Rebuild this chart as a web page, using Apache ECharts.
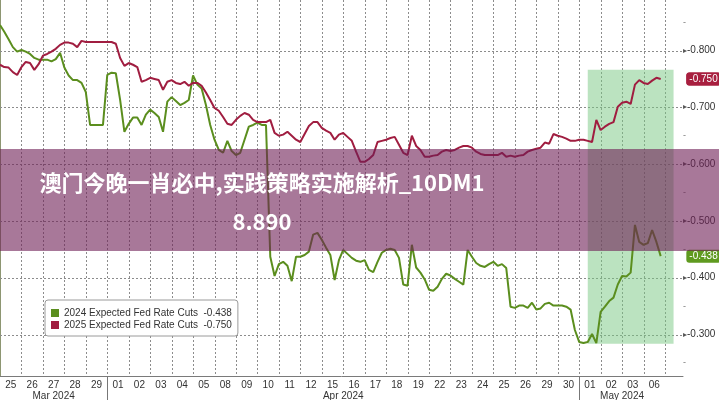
<!DOCTYPE html>
<html><head><meta charset="utf-8">
<script src="https://cdn.jsdelivr.net/npm/echarts@6/dist/echarts.min.js"></script>
<style>html,body{margin:0;padding:0;background:#fff}#c{width:719px;height:400px}</style>
</head><body><div id="c"></div>
<script>
const dayLabels = ['25','26','27','28','29','01','02','03','04','05','08','09','10','11','12','15','16','17','18','19','22','23','24','25','26','29','30','01','02','03','06'];
const monthNames = ['Mar 2024','Apr 2024','May 2024'];
const monthStart = [0, 5, 27];
const samplesPerDay = 5;
const seriesNames = ['2024 Expected Fed Rate Cuts', '2025 Expected Fed Rate Cuts'];
const fedCuts2024 = [
-0.845,-0.833,-0.820,-0.806,-0.798,-0.801,-0.798,-0.794,-0.787,-0.784,
-0.784,-0.784,-0.781,-0.785,-0.796,-0.770,-0.756,-0.748,-0.748,-0.743,
-0.727,-0.669,-0.669,-0.669,-0.669,-0.757,-0.761,-0.760,-0.713,-0.657,
-0.671,-0.682,-0.682,-0.669,-0.687,-0.696,-0.690,-0.683,-0.657,-0.710,
-0.718,-0.711,-0.704,-0.708,-0.713,-0.756,-0.740,-0.733,-0.704,-0.669,
-0.643,-0.625,-0.620,-0.641,-0.623,-0.616,-0.620,-0.643,-0.666,-0.669,
-0.673,-0.669,-0.669,-0.437,-0.403,-0.424,-0.428,-0.421,-0.394,-0.437,
-0.437,-0.440,-0.446,-0.476,-0.479,-0.467,-0.453,-0.440,-0.396,-0.431,
-0.449,-0.442,-0.435,-0.430,-0.428,-0.431,-0.414,-0.410,-0.428,-0.444,
-0.449,-0.451,-0.449,-0.435,-0.388,-0.386,-0.458,-0.418,-0.409,-0.397,
-0.379,-0.377,-0.384,-0.398,-0.407,-0.404,-0.398,-0.393,-0.388,-0.449,
-0.437,-0.426,-0.421,-0.419,-0.424,-0.428,-0.421,-0.424,-0.417,-0.349,
-0.347,-0.351,-0.351,-0.347,-0.356,-0.344,-0.346,-0.354,-0.356,-0.351,
-0.351,-0.351,-0.349,-0.344,-0.308,-0.287,-0.285,-0.287,-0.301,-0.285,
-0.340,-0.349,-0.359,-0.365,-0.388,-0.403,-0.402,-0.409,-0.493,-0.463,
-0.458,-0.461,-0.484,-0.463,-0.438
];
const fedCuts2025 = [
-0.775,-0.771,-0.770,-0.762,-0.757,-0.771,-0.780,-0.778,-0.766,-0.776,
-0.791,-0.794,-0.798,-0.803,-0.810,-0.814,-0.814,-0.812,-0.806,-0.817,
-0.815,-0.815,-0.815,-0.815,-0.815,-0.815,-0.815,-0.812,-0.787,-0.773,
-0.778,-0.775,-0.771,-0.745,-0.748,-0.752,-0.750,-0.748,-0.731,-0.745,
-0.748,-0.743,-0.741,-0.745,-0.738,-0.743,-0.743,-0.738,-0.726,-0.713,
-0.699,-0.694,-0.683,-0.671,-0.669,-0.678,-0.685,-0.690,-0.687,-0.678,
-0.674,-0.674,-0.674,-0.678,-0.655,-0.650,-0.652,-0.657,-0.650,-0.643,
-0.639,-0.653,-0.667,-0.674,-0.674,-0.664,-0.659,-0.655,-0.643,-0.652,
-0.655,-0.648,-0.641,-0.622,-0.604,-0.604,-0.609,-0.616,-0.639,-0.641,
-0.643,-0.646,-0.648,-0.634,-0.620,-0.616,-0.650,-0.632,-0.625,-0.613,
-0.613,-0.615,-0.616,-0.622,-0.625,-0.623,-0.625,-0.629,-0.632,-0.632,
-0.629,-0.622,-0.618,-0.616,-0.616,-0.616,-0.616,-0.620,-0.613,-0.615,
-0.613,-0.615,-0.616,-0.622,-0.625,-0.627,-0.629,-0.638,-0.636,-0.653,
-0.650,-0.648,-0.645,-0.641,-0.641,-0.643,-0.643,-0.641,-0.639,-0.678,
-0.660,-0.666,-0.671,-0.674,-0.701,-0.708,-0.710,-0.706,-0.740,-0.748,
-0.743,-0.741,-0.747,-0.752,-0.750
];
const yMajorTicks = [-0.8, -0.7, -0.6, -0.5, -0.4, -0.3];
const yMinorTicks = [-0.85, -0.75, -0.65, -0.55, -0.45, -0.35, -0.25];
const highlightDays = [27.4, 31.4];
const highlightValues = [-0.766, -0.284];
const titleLines = ['澳门今晚一肖必中,实践策略实施解析_10DM1', '8.890'];

const X_MAX = 31.84, Y_MIN = -0.889, Y_MAX = -0.227;
const FONT = '"Liberation Sans", Arial, sans-serif';
const GREEN = '#5b8e1e', RED = '#a01d40';

const monthEnd = monthStart.slice(1).concat([dayLabels.length]);
const monthCenters = monthStart.map((s, k) => (s + monthEnd[k]) / 2);
const monthBounds = monthStart.slice(1);
const dayBounds = dayLabels.map((d, i) => i + 1);
const last24 = fedCuts2024[fedCuts2024.length - 1];
const last25 = fedCuts2025[fedCuts2025.length - 1];
const lastVals = {}; lastVals[seriesNames[0]] = last24; lastVals[seriesNames[1]] = last25;
const toXY = arr => arr.map((v, i) => [i / samplesPerDay, v]);
const isIn = (arr, v) => arr.some(a => Math.abs(a - v) < 1e-9);

const baseGraphic = [
  {id: 'band', type: 'rect', z: 100, shape: {x: 0, y: 149, width: 719, height: 102}, style: {fill: 'rgba(110,30,85,0.6)'}},
  {id: 'title', type: 'text', z: 101, x: 262, y: 202,
   style: {text: titleLines.join('\n'), fill: '#ffffff', font: 'bold 22px "Noto Sans CJK SC"',
     textAlign: 'center', textVerticalAlign: 'middle', lineHeight: 39}}
];

const chart = echarts.init(document.getElementById('c'), null, {renderer: 'canvas'});
chart.setOption({
  animation: false,
  backgroundColor: '#ffffff',
  grid: {left: 0, right: 36, top: 0, bottom: 24, outerBoundsMode: 'none'},
  xAxis: [
    {type: 'value', min: 0, max: X_MAX, position: 'bottom',
     axisLine: {show: true, lineStyle: {color: '#7a7a7a', width: 1}},
     axisTick: {show: false}, axisLabel: {show: false}, splitLine: {show: false}},
    {type: 'value', min: -0.5, max: X_MAX - 0.5, interval: 0.5, position: 'bottom',
     axisLine: {show: false}, axisTick: {show: false}, splitLine: {show: false},
     axisLabel: {show: true, margin: 4, fontSize: 10, fontFamily: FONT, color: '#333',
       showMinLabel: false, showMaxLabel: false,
       formatter: v => (Number.isInteger(v) && dayLabels[v] !== undefined) ? dayLabels[v] : ''}},
    {type: 'value', min: 0, max: X_MAX, position: 'bottom',
     axisLine: {show: false}, splitLine: {show: false},
     axisTick: {show: true, customValues: monthBounds, length: 24, lineStyle: {color: '#777', width: 1}},
     axisLabel: {show: true, customValues: monthCenters, margin: 15, fontSize: 10, fontFamily: FONT, color: '#333',
       formatter: v => { const k = monthCenters.indexOf(v); return k >= 0 ? monthNames[k] : ''; }}}
  ],
  yAxis: [
    {type: 'value', min: Y_MIN, max: Y_MAX, inverse: true, position: 'right',
     axisLine: {show: true, lineStyle: {color: '#8d9672', width: 1}},
     axisTick: {show: false}, minorTick: {show: false}, splitLine: {show: false},
     axisLabel: {show: true, customValues: yMajorTicks.concat(yMinorTicks, [last25, last24]), margin: 0,
       formatter: v => v === last25 ? ' {r|' + v.toFixed(3) + '}' :
                       v === last24 ? ' {g|' + v.toFixed(3) + '}' :
                       isIn(yMinorTicks, v) ? '{m|-}' :
                       '{a|▸}{t|' + v.toFixed(3) + '}',
       rich: {a: {fontSize: 8, color: '#555', fontFamily: '"DejaVu Sans"'},
              m: {fontSize: 9, color: '#777', fontFamily: FONT},
              t: {fontSize: 10, color: '#333', fontFamily: FONT},
              r: {backgroundColor: '#a81f3f', color: '#fff', fontSize: 10, fontFamily: FONT, padding: [2, 3, 1, 3], borderRadius: 3},
              g: {backgroundColor: '#5f9a1f', color: '#fff', fontSize: 10, fontFamily: FONT, padding: [2, 3, 1, 3], borderRadius: 3}}},
     name: 'Low => High', nameLocation: 'middle', nameRotate: -90, nameGap: 24,
     nameTextStyle: {color: '#b3b3b3', fontSize: 15, fontFamily: '"DejaVu Sans"'}}
  ],
  legend: {
    orient: 'vertical', left: 45, top: 300, itemWidth: 8, itemHeight: 8, itemGap: 0,
    icon: 'rect', backgroundColor: '#ffffff', borderColor: '#9a9a9a', borderWidth: 1, borderRadius: 3,
    padding: [7, 6, 5, 6], z: 10,
    textStyle: {fontSize: 10, fontFamily: FONT, color: '#333', lineHeight: 12},
    formatter: name => name + '  ' + lastVals[name].toFixed(3),
    data: seriesNames
  },
  series: [
    {name: seriesNames[0], type: 'line', xAxisIndex: 0, yAxisIndex: 0, data: toXY(fedCuts2024),
     showSymbol: false, symbol: 'none', lineStyle: {color: GREEN, width: 2}, itemStyle: {color: GREEN}, z: 2},
    {name: seriesNames[1], type: 'line', xAxisIndex: 0, yAxisIndex: 0, data: toXY(fedCuts2025),
     showSymbol: false, symbol: 'none', lineStyle: {color: RED, width: 2}, itemStyle: {color: RED}, z: 3,
     markArea: {silent: true, itemStyle: {color: 'rgba(120,200,130,0.5)'},
       data: [[{xAxis: highlightDays[0], yAxis: highlightValues[0]}, {xAxis: highlightDays[1], yAxis: highlightValues[1]}]]}}
  ],
  graphic: baseGraphic
});

// Dotted grid lines, positioned through the chart's own axis scales.
const px = v => chart.convertToPixel({xAxisIndex: 0}, v);
const py = v => chart.convertToPixel({yAxisIndex: 0}, v);
const crisp = p => Math.round(p) + 0.5;
const yTop = py(Y_MIN), yBot = py(Y_MAX), xLeft = px(0), xRight = px(X_MAX);
const gridStyle = {stroke: '#8c8c8c', lineWidth: 1, lineDash: [2, 2]};
const gridLines = dayBounds.map((d, i) => ({
  id: 'vg' + i, type: 'line', z: 1, silent: true,
  shape: {x1: crisp(px(d)), y1: yTop, x2: crisp(px(d)), y2: yBot}, style: gridStyle
})).concat(yMajorTicks.map((v, i) => ({
  id: 'hg' + i, type: 'line', z: 1, silent: true,
  shape: {x1: xLeft, y1: crisp(py(v)), x2: xRight, y2: crisp(py(v))}, style: gridStyle
})));
chart.setOption({graphic: baseGraphic.concat(gridLines)});
</script></body></html>
